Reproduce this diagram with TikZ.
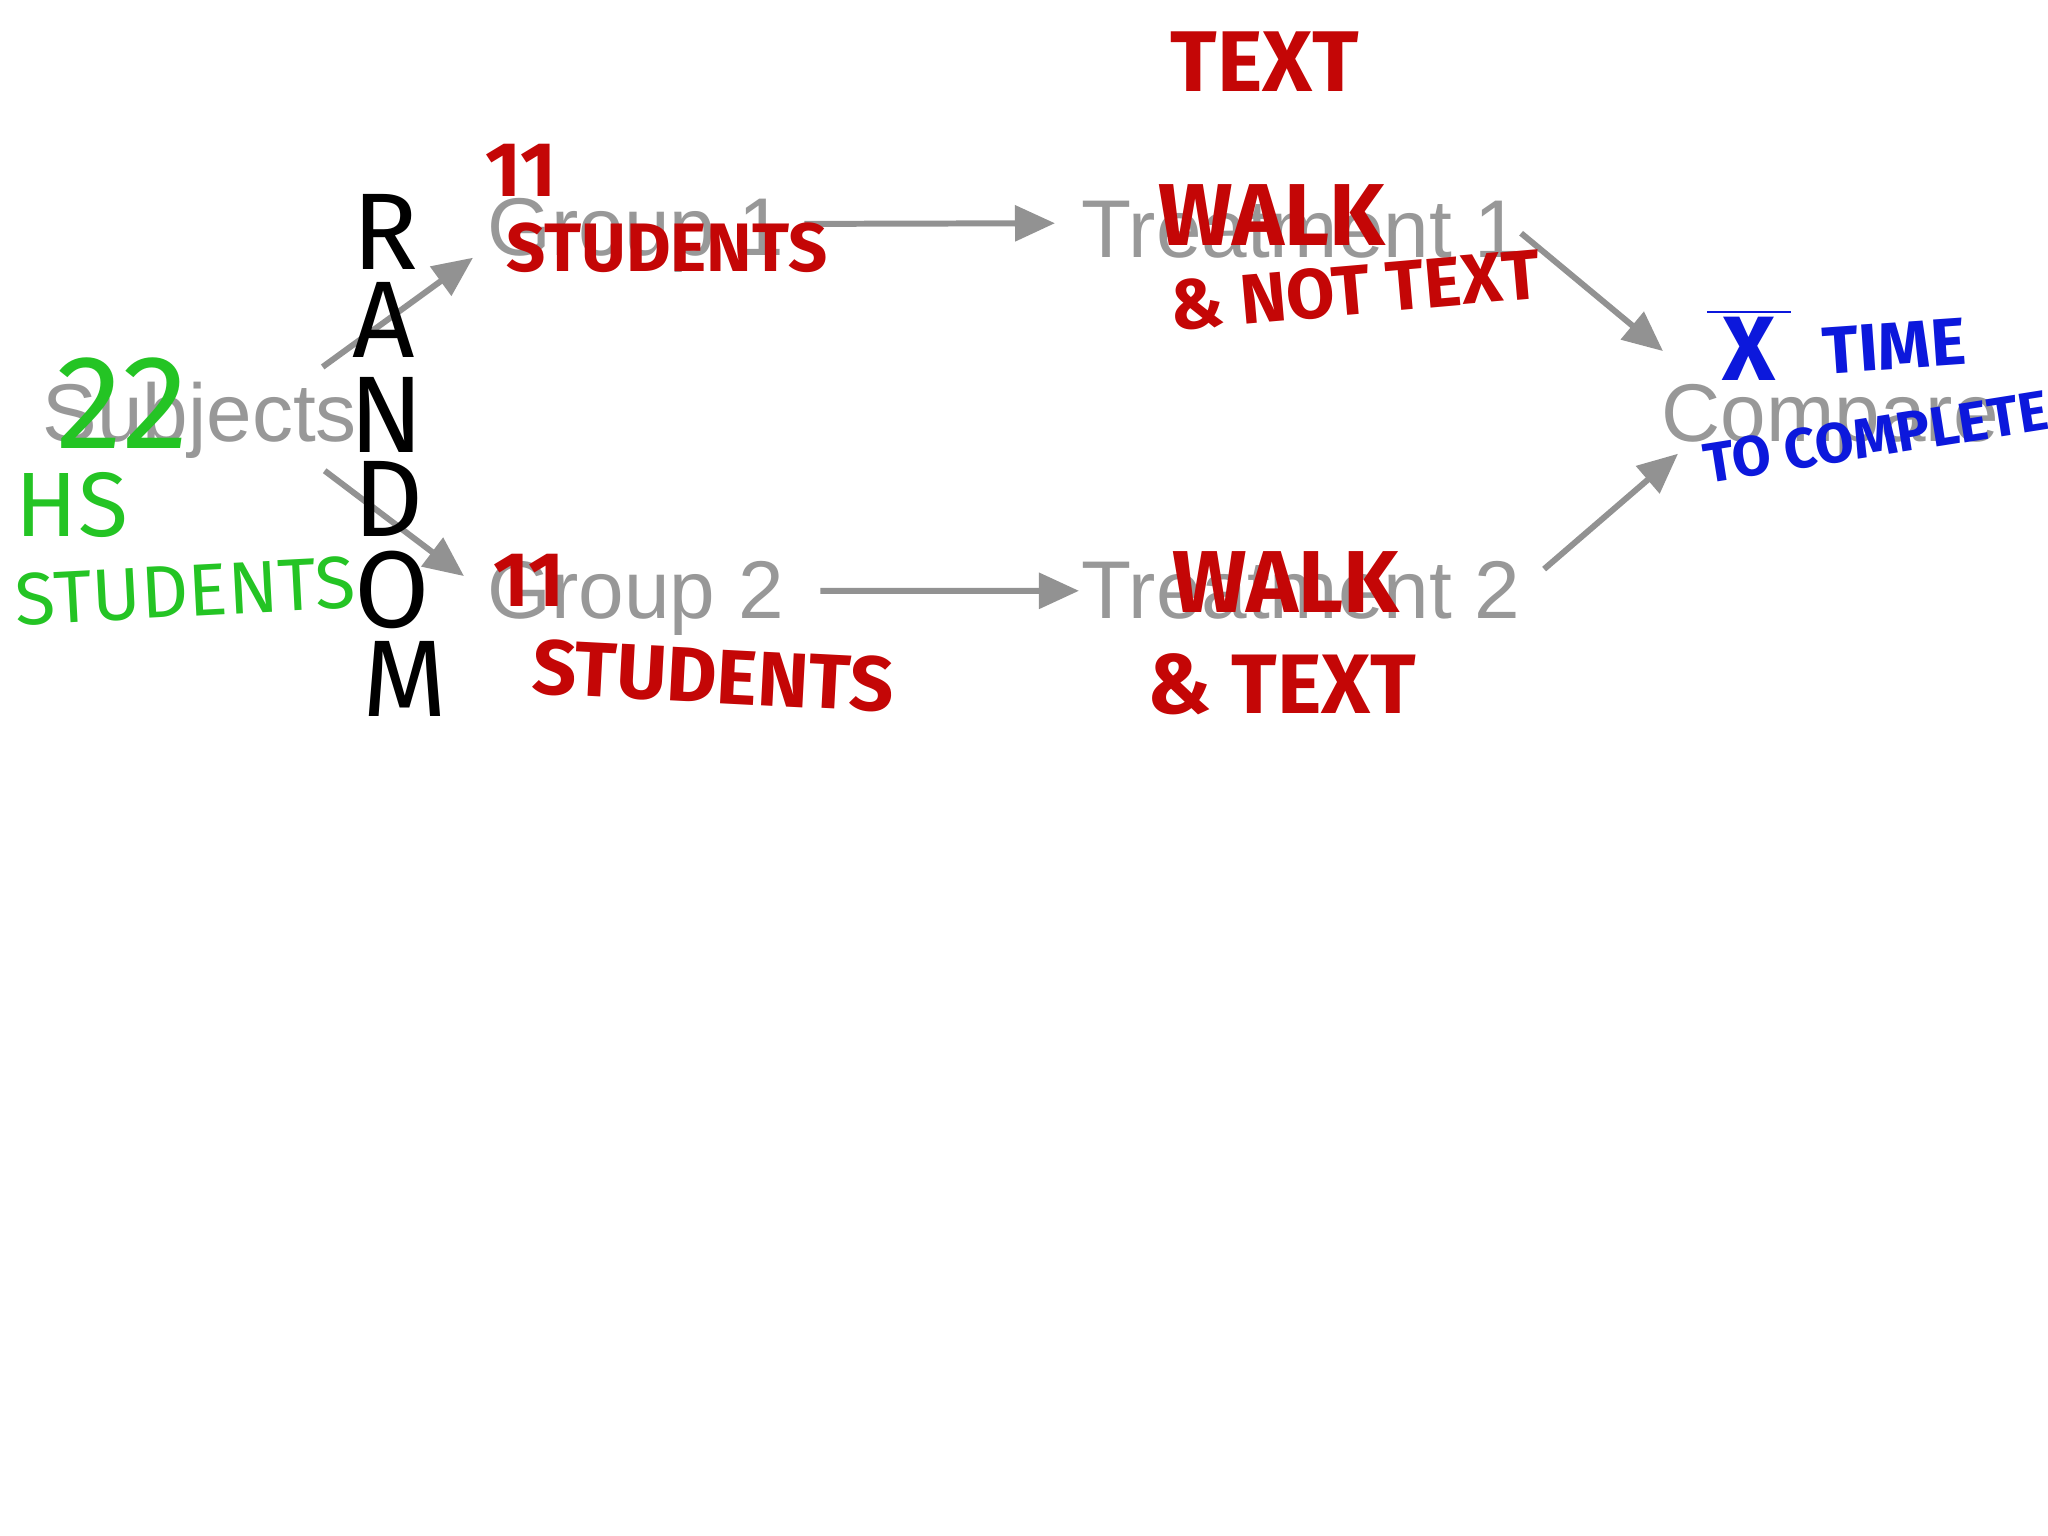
\documentclass[tikz,border=0pt]{standalone}
\usepackage{fontspec}
\usetikzlibrary{arrows.meta}
\newfontfamily\printfont{Liberation Sans}
\newfontfamily\penfont{Fira Sans}
\definecolor{printgray}{RGB}{152,152,152}
\definecolor{arrowgray}{RGB}{146,146,146}
\definecolor{penred}{RGB}{196,6,6}
\definecolor{pengreen}{RGB}{36,196,36}
\definecolor{penblue}{RGB}{12,24,220}
\newcommand\pensize[1]{\fontsize{#1}{#1}\selectfont}

\begin{document}
\begin{tikzpicture}[x=0.01cm, y=-0.01cm]
  \useasboundingbox[fill=white] (0,0) rectangle (2048,1536);
  \tikzstyle{printed} = [text=printgray, inner sep=0pt, anchor=base west,
    font=\printfont\fontsize{23.3}{28}\selectfont]
  \tikzstyle{flow} = [draw=arrowgray, fill=arrowgray, line width=1.7pt,
    -{Triangle[length=0.40cm, width=0.35cm]}]
  \tikzstyle{redpen} = [text=penred, inner sep=0pt, font=\penfont\bfseries]
  \tikzstyle{greenpen} = [text=pengreen, inner sep=0pt, font=\penfont]
  \tikzstyle{bluepen} = [text=penblue, inner sep=0pt, font=\penfont\bfseries]
  \tikzstyle{blackpen} = [text=black, inner sep=0pt, font=\penfont]

  % printed slide
  \node[printed] (subjects) at (42,441) {Subjects};
  \node[printed] (group1) at (487,255) {Group 1};
  \node[printed] (treat1) at (1081,257) {Treatment 1};
  \node[printed] (group2) at (487,618) {Group 2};
  \node[printed] (treat2) at (1081,618) {Treatment 2};
  \node[printed] (compare) at (1661,441) {Compare};

  \draw[flow] ([shift={(-35,-14)}]subjects.north east) -- ([shift={(-14,-15)}]group1.south west);
  \draw[flow] ([shift={(-33,12)}]subjects.south east) -- ([shift={(-23,16)}]group2.north west);
  \draw[flow] ([shift={(20,-11)}]group1.east) -- ([shift={(-26,-6)}]treat1.west);
  \draw[flow] ([shift={(36,-7)}]group2.east) -- ([shift={(-2,1)}]treat2.west);
  \draw[flow] ([shift={(0,4)}]treat1.east) -- ([shift={(2,-32)}]compare.north west);
  \draw[flow] ([shift={(23,9)}]treat2.north east) -- ([shift={(17,-5)}]compare.south west);

  % pen notes
  \foreach \l/\x/\y [count=\i] in {R/385/232, A/384/320, N/387/415,
    D/389/499, O/392/590, M/405/679}{
    \node[blackpen] (random\i) at (\x,\y) {\pensize{31}\l};
  }
  \node[greenpen] (twentytwo) at (123,403) {\pensize{38}22};
  \node[greenpen] (hs) at (72,505) {\pensize{26}HS};
  \node[greenpen, rotate=3] (hsstudents) at (185,591) {\pensize{21}STUDENTS};

  \node[redpen] (elevenone) at (521,170) {\pensize{22}11};
  \node[redpen] (studentsone) at (667,248) {\pensize{19.5}STUDENTS};
  \node[redpen] (eleventwo) at (529,580) {\pensize{22}11};
  \node[redpen, rotate=-3] (studentstwo) at (713,676) {\pensize{22}STUDENTS};
  \node[redpen] (texttop) at (1265,62) {\pensize{24.5}TEXT};
  \node[redpen] (walkone) at (1272,215) {\pensize{25}WALK};
  \node[redpen, rotate=5] (nottext) at (1355,290) {\pensize{20}\& NOT TEXT};
  \node[redpen] (walktwo) at (1286,582) {\pensize{25}WALK};
  \node[redpen] (andtext) at (1282,684) {\pensize{24}\& TEXT};

  \node[bluepen] (xbar) at (1749,345) {\pensize{26}$\overline{\hbox{\,X\,}}$};
  \node[bluepen, rotate=4] (time) at (1894,346) {\pensize{19}TIME};
  \node[bluepen, rotate=9] (tocomplete) at (1876,437) {\pensize{16}TO COMPLETE};
\end{tikzpicture}
\end{document}
